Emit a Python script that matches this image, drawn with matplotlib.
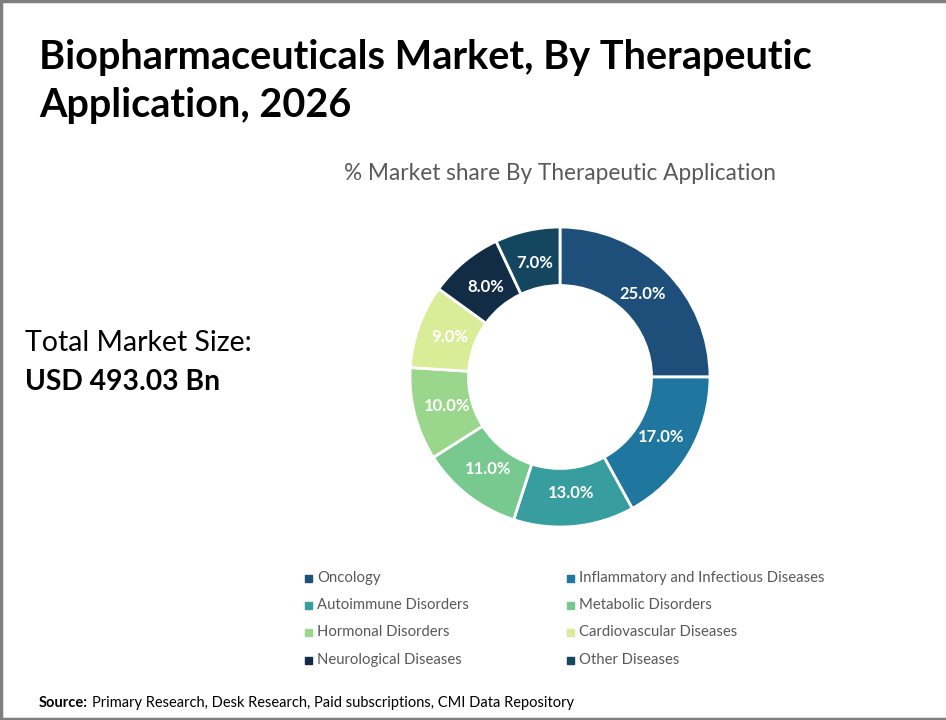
import matplotlib.pyplot as plt
from matplotlib.patches import Rectangle
from matplotlib.lines import Line2D

plt.rcParams['font.family'] = ['Lato', 'DejaVu Sans']

categories = ['Oncology', 'Inflammatory and Infectious Diseases', 'Autoimmune Disorders',
              'Metabolic Disorders', 'Hormonal Disorders', 'Cardiovascular Diseases',
              'Neurological Diseases', 'Other Diseases']
shares = [25.0, 17.0, 13.0, 11.0, 10.0, 9.0, 8.0, 7.0]
colors = ['#1d4f7a', '#1f77a0', '#389d9f', '#78c98f', '#9ad68b', '#d9ed99', '#132c45', '#14475f']

W, H = 946, 720
fig = plt.figure(figsize=(W / 100, H / 100), dpi=100)

# frame lines (top, left, bottom)
for xs, ys in [([0, 1], [0.9985, 0.9985]), ([0.001, 0.001], [0, 1]), ([0, 1], [0.0015, 0.0015])]:
    fig.add_artist(Line2D(xs, ys, color='#7f7f7f', lw=2.5, transform=fig.transFigure))

fig.text(39 / W, 1 - 58 / H, 'Biopharmaceuticals Market, By Therapeutic', fontsize=28.5,
         fontweight='bold', va='center', ha='left', color='black')
fig.text(39 / W, 1 - 106 / H, 'Application, 2026', fontsize=28.5,
         fontweight='bold', va='center', ha='left', color='black')

fig.text(560 / W, 1 - 173 / H, '% Market share By Therapeutic Application', fontsize=16.3,
         color='#595959', ha='center', va='center')

fig.text(25 / W, 1 - 343 / H, 'Total Market Size:', fontsize=20.5, ha='left', va='center')
fig.text(25 / W, 1 - 382 / H, 'USD 493.03 Bn', fontsize=20.3, fontweight='bold',
         ha='left', va='center')

cx, cy, r = 560, 377, 150
ax = fig.add_axes([(cx - r) / W, 1 - (cy + r) / H, 2 * r / W, 2 * r / H])
wedges, texts, autotexts = ax.pie(
    shares, colors=colors, startangle=90, counterclock=False,
    autopct='%1.1f%%', pctdistance=0.78,
    wedgeprops=dict(width=0.39, edgecolor='white', linewidth=2),
    textprops=dict(color='white', fontsize=12, fontweight='bold'))
ax.set_xlim(-1, 1)
ax.set_ylim(-1, 1)
ax.set_aspect('equal')
ax.axis('off')

# legend, two columns
col_x = [305, 567]
row_y = [578, 605, 632, 660]
for i, (name, c) in enumerate(zip(categories, colors)):
    x = col_x[i % 2]
    y = row_y[i // 2]
    fig.add_artist(Rectangle((x / W, 1 - (y + 3.5) / H), 7 / W, 7 / H, color=c,
                             transform=fig.transFigure))
    fig.text((x + 12) / W, 1 - y / H, name, fontsize=10.7, color='#595959',
             ha='left', va='center')

fig.text(39 / W, 1 - 703 / H, 'Source:', fontsize=10.5, fontweight='bold', ha='left', va='center')
fig.text(92 / W, 1 - 703 / H, 'Primary Research, Desk Research, Paid subscriptions, CMI Data Repository',
         fontsize=10.5, ha='left', va='center')

fig.savefig('out.png', dpi=100)
